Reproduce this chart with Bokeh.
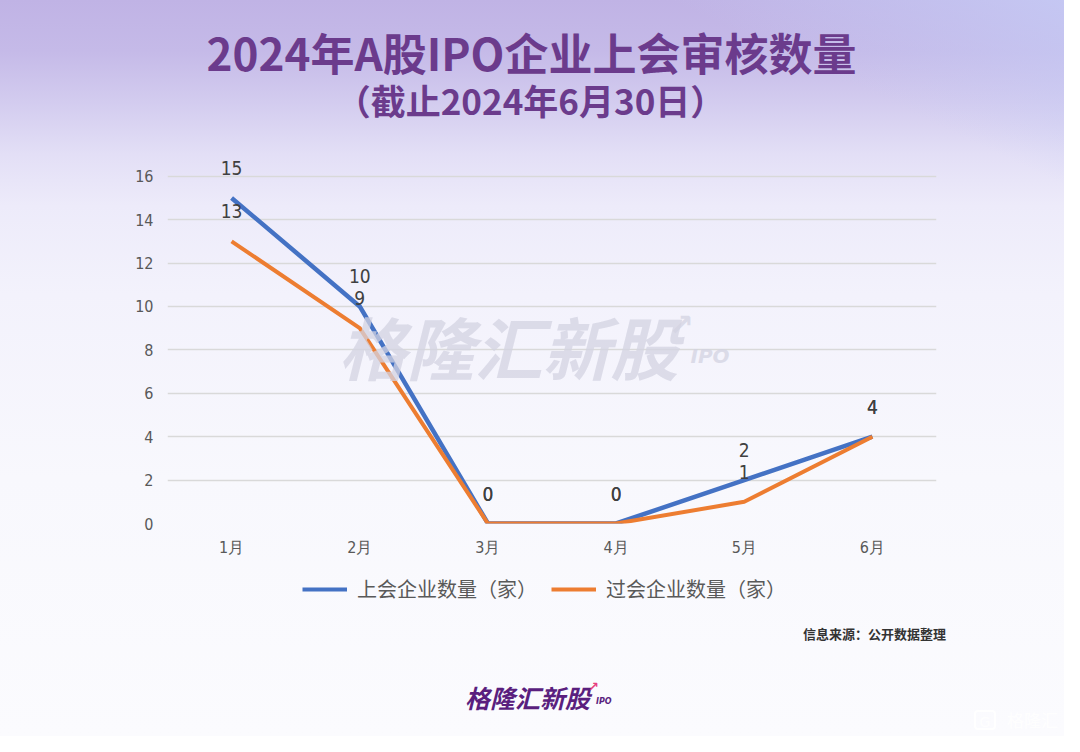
from bokeh.plotting import figure
from bokeh.models import Label, Legend, LegendItem, FactorRange, Range1d, ColumnDataSource, Div
from bokeh.layouts import column
from bokeh.core.properties import value
from bokeh.embed import file_html
from bokeh.resources import INLINE

months = ["1月", "2月", "3月", "4月", "5月", "6月"]
shanghui = [15, 10, 0, 0, 2, 4]
guohui = [13, 9, 0, 0, 1, 4]
yticks = [0, 2, 4, 6, 8, 10, 12, 14, 16]
series_names = ["上会企业数量（家）", "过会企业数量（家）"]

title_text = "2024年A股IPO企业上会审核数量"
subtitle_text = "（截止2024年6月30日）"
source_text = "信息来源：公开数据整理"
logo_text = "格隆汇新股"
corner_text = "格隆汇"

W = 1064
H_HEAD, H_MAIN, H_LEG, H_FOOT = 150, 420, 50, 116
PURPLE = "#6b3b8c"
BLUE, ORANGE = "#4472C4", "#ED7D31"


def blank(h):
    f = figure(width=W, height=h, x_range=Range1d(0, W), y_range=Range1d(0, h),
               x_axis_type=None, y_axis_type=None, output_backend="svg", toolbar_location=None,
               min_border=0)
    f.border_fill_color = None
    f.background_fill_color = None
    f.outline_line_color = None
    f.grid.visible = False
    return f


# ---------- header ----------
head = blank(H_HEAD)
head.add_layout(Label(x=531, y=51, x_units="canvas", y_units="canvas", text=title_text,
                      text_font="Noto Sans CJK SC", text_font_style="bold", text_font_size="44px",
                      text_color=PURPLE, text_align="center", text_baseline="middle"))
head.add_layout(Label(x=530, y=99, x_units="canvas", y_units="canvas", text=subtitle_text,
                      text_font="Noto Sans CJK SC", text_font_style="bold", text_font_size="35px",
                      text_color=PURPLE, text_align="center", text_baseline="middle"))

# ---------- main chart ----------
p = figure(width=W, height=H_MAIN, x_range=FactorRange(*months), y_range=Range1d(0, 17),
           output_backend="svg", toolbar_location=None,
           min_border_left=167, min_border_right=128, min_border_top=4, min_border_bottom=47)
p.border_fill_color = None
p.background_fill_color = None
p.outline_line_color = None
p.xgrid.grid_line_color = None
p.ygrid.grid_line_color = "#d9d9d9"
p.ygrid.grid_line_width = 1.5
p.yaxis.ticker = yticks
for ax in (p.xaxis[0], p.yaxis[0]):
    ax.axis_line_color = None
    ax.major_tick_line_color = None
    ax.minor_tick_line_color = None
    ax.major_label_text_font = "DejaVu Sans Condensed"
    ax.major_label_text_font_size = "16px"
    ax.major_label_text_color = "#595959"
p.yaxis.major_label_standoff = 8
p.xaxis.major_label_standoff = 8

# watermark
p.add_layout(Label(x=338, y=195, x_units="canvas", y_units="canvas", text=logo_text,
                   text_font="Noto Sans CJK SC", text_font_style="bold italic", text_font_size="68px",
                   text_color="#d3d3e2", text_alpha=0.75, text_baseline="middle"))
p.add_layout(Label(x=668, y=174, x_units="canvas", y_units="canvas", text="↗",
                   text_font="DejaVu Sans", text_font_style="bold", text_font_size="30px",
                   text_color="#d3d3e2", text_alpha=0.75, text_baseline="middle"))
p.add_layout(Label(x=690, y=205, x_units="canvas", y_units="canvas", text="IPO",
                   text_font="DejaVu Sans", text_font_style="bold italic", text_font_size="20px",
                   text_color="#d3d3e2", text_alpha=0.75, text_baseline="middle"))

src = ColumnDataSource(dict(m=months, a=shanghui, b=guohui,
                            la=[str(v) for v in shanghui], lb=[str(v) for v in guohui]))
r1 = p.line("m", "a", source=src, line_color=BLUE, line_width=4.5, line_join="round")
r2 = p.line("m", "b", source=src, line_color=ORANGE, line_width=4, line_join="round")
for col, ycol in (("la", "a"), ("lb", "b")):
    p.text(x="m", y=ycol, text=col, source=src, text_align="center", text_baseline="middle",
           y_offset=-30, text_font=value("DejaVu Sans Condensed"), text_font_size="19px",
           text_color="#404040")

# ---------- legend strip ----------
leg = blank(H_LEG)
idx = list(range(len(months)))
k1 = leg.line(x=idx, y=shanghui, line_color=BLUE, line_width=4, visible=False)
k2 = leg.line(x=idx, y=guohui, line_color=ORANGE, line_width=4, visible=False)
legend = Legend(items=[LegendItem(label=series_names[0], renderers=[k1]),
                       LegendItem(label=series_names[1], renderers=[k2])],
                orientation="horizontal", location=(135, 17))
legend.background_fill_alpha = 0
legend.border_line_color = None
legend.inactive_fill_alpha = 0
legend.padding = 0
legend.margin = 0
legend.spacing = 14
legend.glyph_width = 45
legend.glyph_height = 20
legend.label_height = 20
legend.label_standoff = 10
legend.label_text_font = "Noto Sans CJK SC"
legend.label_text_font_size = "20px"
legend.label_text_color = "#595959"
leg.add_layout(legend)

# ---------- footer texts ----------
footer_html = f"""
<div style="position:relative;width:{W}px;height:{H_FOOT}px;font-family:'Noto Sans CJK SC',sans-serif;">
  <span style="position:absolute;right:118px;top:6px;font-size:13px;line-height:16px;font-weight:bold;color:#333333;white-space:nowrap;">{source_text}</span>
  <span style="position:absolute;left:465px;top:62px;font-size:25px;line-height:30px;font-weight:bold;font-style:italic;color:#5a1f7e;white-space:nowrap;">{logo_text}</span>
  <span style="position:absolute;left:588px;top:59px;font-size:13px;line-height:16px;font-weight:bold;color:#e8407f;font-family:'DejaVu Sans';">↗</span>
  <span style="position:absolute;left:596px;top:77px;font-size:8px;line-height:10px;font-weight:bold;font-style:italic;color:#5a1f7e;font-family:'DejaVu Sans';">IPO</span>
  <span style="position:absolute;left:974px;top:90px;width:22px;height:20px;border:2px solid rgba(255,255,255,0.9);border-radius:4px;font-size:14px;line-height:20px;text-align:center;color:rgba(255,255,255,0.9);font-family:'DejaVu Sans';">G</span>
  <span style="position:absolute;left:1007px;top:89px;font-size:17px;line-height:22px;color:rgba(255,255,255,0.9);white-space:nowrap;">{corner_text}</span>
</div>
"""
foot = Div(text=footer_html, width=W, height=H_FOOT, margin=0)

layout = column(head, p, leg, foot, spacing=0, styles={
    "background": "linear-gradient(205deg, rgba(198,204,246,0.8) 0%, rgba(198,204,246,0) 15%), "
                  "linear-gradient(180deg, #c0b3e5 0%, #c5bae8 7%, #d3ccef 14%, #e3dff6 21%, "
                  "#edebfa 28%, #f3f2fc 40%, #f8f8fd 65%, #fbfbfe 100%)"})

open("out.html", "w").write(file_html(layout, INLINE))
